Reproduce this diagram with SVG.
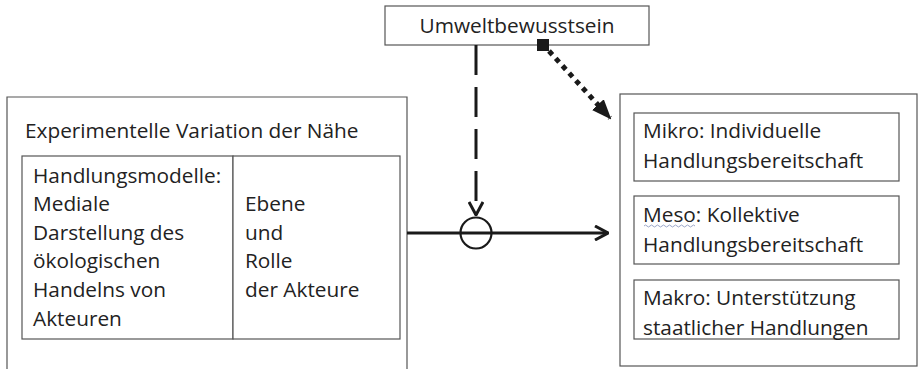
<svg xmlns="http://www.w3.org/2000/svg" width="919" height="369" viewBox="0 0 919 369">
<defs>
<style>
.box{fill:#fff;stroke:#555;stroke-width:1.2}
.t{font-family:"Open Sans","Noto Sans",sans-serif;font-size:20.8px;fill:#222}
.c{stroke:#1a1a1a;fill:none}
</style>
<marker id="chev" viewBox="0 0 16 16" refX="15" refY="8" markerWidth="16" markerHeight="16" markerUnits="userSpaceOnUse" orient="auto">
<path d="M2,1 L15,8 L2,15" fill="none" stroke="#1a1a1a" stroke-width="3"/>
</marker>
<marker id="tri" viewBox="0 0 20 20" refX="18" refY="10" markerWidth="20" markerHeight="20" markerUnits="userSpaceOnUse" orient="auto">
<path d="M0,2 L20,10 L0,18 Z" fill="#1a1a1a"/>
</marker>
</defs>
<rect width="919" height="369" fill="#fff"/>
<g id="umwelt">
<rect class="box" x="385" y="6" width="264" height="39"/>
<text class="t" x="517" y="33" text-anchor="middle">Umweltbewusstsein</text>
</g>
<g id="experiment">
<path class="box" d="M7,369 L7,97 L407,97 L407,369"/>
<text class="t" x="25" y="138">Experimentelle Variation der Nähe</text>
</g>
<g id="handlungsmodelle">
<rect class="box" x="22" y="156" width="211" height="183"/>
<text class="t" x="33" y="183">Handlungsmodelle:</text>
<text class="t" x="33" y="211">Mediale</text>
<text class="t" x="33" y="240">Darstellung des</text>
<text class="t" x="33" y="268">ökologischen</text>
<text class="t" x="33" y="297">Handelns von</text>
<text class="t" x="33" y="326">Akteuren</text>
</g>
<g id="ebene">
<rect class="box" x="233" y="156" width="167" height="183"/>
<text class="t" x="245" y="211">Ebene</text>
<text class="t" x="245" y="240">und</text>
<text class="t" x="245" y="268">Rolle</text>
<text class="t" x="245" y="297">der Akteure</text>
</g>
<g id="outcomes">
<rect class="box" x="620" y="94" width="297" height="272"/>
</g>
<g id="mikro">
<rect class="box" x="634" y="113" width="265" height="68"/>
<text class="t" x="643" y="138">Mikro: Individuelle</text>
<text class="t" x="643" y="168">Handlungsbereitschaft</text>
</g>
<g id="meso">
<rect class="box" x="634" y="196" width="265" height="68"/>
<text class="t" x="643" y="222">Meso: Kollektive</text>
<text class="t" x="643" y="252">Handlungsbereitschaft</text>
<path d="M644,226 q1.5,-2 3,0 t3,0 t3,0 t3,0 t3,0 t3,0 t3,0 t3,0 t3,0 t3,0 t3,0 t3,0 t3,0 t3,0 t3,0 t3,0 t3,0" fill="none" stroke="#9aa6c8" stroke-width="1"/>
</g>
<g id="makro">
<rect class="box" x="634" y="280" width="265" height="59"/>
<text class="t" x="643" y="305">Makro: Unterstützung</text>
<text class="t" x="643" y="335">staatlicher Handlungen</text>
</g>
<g id="connectors">
<line class="c" x1="407" y1="233" x2="608" y2="233" stroke-width="3" marker-end="url(#chev)"/>
<circle class="c" cx="476" cy="233" r="15.5" stroke-width="2.2"/>
<line class="c" x1="476" y1="45" x2="476" y2="215" stroke-width="3" stroke-dasharray="30 12" marker-end="url(#chev)"/>
<rect x="537" y="39" width="12" height="12" fill="#1a1a1a"/>
<line class="c" x1="549" y1="51" x2="610" y2="118" stroke-width="5" stroke-dasharray="5 5" marker-end="url(#tri)"/>
</g>
</svg>
